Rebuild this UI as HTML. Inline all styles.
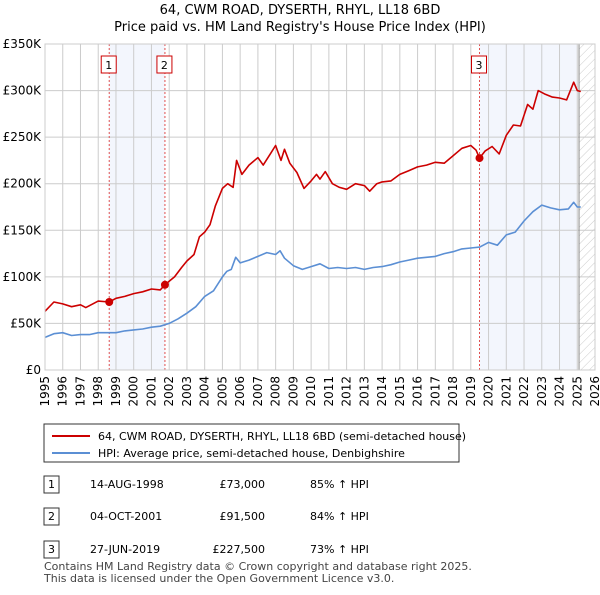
<!DOCTYPE html>
<html><head><meta charset="utf-8"><style>
body{margin:0;background:#fff;font-family:"Liberation Sans","DejaVu Sans",sans-serif;}
svg text{font-family:"DejaVu Sans","Liberation Sans",sans-serif;}
</style></head><body>
<svg width="600" height="590" viewBox="0 0 600 590" xmlns="http://www.w3.org/2000/svg">
<defs><pattern id="hatch" width="6" height="6" patternUnits="userSpaceOnUse" patternTransform="rotate(45)"><line x1="0" y1="0" x2="0" y2="6" stroke="#ccc" stroke-width="1"/></pattern></defs>
<text x="300" y="14" font-size="13" text-anchor="middle">64, CWM ROAD, DYSERTH, RHYL, LL18 6BD</text>
<text x="300" y="31" font-size="13" text-anchor="middle">Price paid vs. HM Land Registry's House Price Index (HPI)</text>
<g id="plot"></g>
<g>
<rect x="44" y="424" width="415" height="38" fill="#fff" stroke="#333" stroke-width="1"/>
<line x1="52" y1="436" x2="90" y2="436" stroke="#cc0000" stroke-width="2"/>
<text x="98" y="440" font-size="11">64, CWM ROAD, DYSERTH, RHYL, LL18 6BD (semi-detached house)</text>
<line x1="52" y1="453" x2="90" y2="453" stroke="#5b8fd4" stroke-width="2"/>
<text x="98" y="457" font-size="11">HPI: Average price, semi-detached house, Denbighshire</text>
</g>
<g font-size="11">
<rect x="44" y="476" width="15" height="17" fill="#fff" stroke="#333"/><text x="51.5" y="488" text-anchor="middle">1</text>
<text x="90" y="488">14-AUG-1998</text><text x="265" y="488" text-anchor="end">£73,000</text><text x="310" y="488">85% ↑ HPI</text>
<rect x="44" y="508" width="15" height="17" fill="#fff" stroke="#333"/><text x="51.5" y="520" text-anchor="middle">2</text>
<text x="90" y="520">04-OCT-2001</text><text x="265" y="520" text-anchor="end">£91,500</text><text x="310" y="520">84% ↑ HPI</text>
<rect x="44" y="541" width="15" height="17" fill="#fff" stroke="#333"/><text x="51.5" y="553" text-anchor="middle">3</text>
<text x="90" y="553">27-JUN-2019</text><text x="265" y="553" text-anchor="end">£227,500</text><text x="310" y="553">73% ↑ HPI</text>
</g>
<text x="44" y="570" font-size="11" fill="#444">Contains HM Land Registry data © Crown copyright and database right 2025.</text>
<text x="44" y="582" font-size="11" fill="#444">This data is licensed under the Open Government Licence v3.0.</text>
</svg>
<script>
const yTicks=[0,50,100,150,200,250,300,350];
const yTickLabels=["£0","£50K","£100K","£150K","£200K","£250K","£300K","£350K"];
const xYears=[1995,1996,1997,1998,1999,2000,2001,2002,2003,2004,2005,2006,2007,2008,2009,2010,2011,2012,2013,2014,2015,2016,2017,2018,2019,2020,2021,2022,2023,2024,2025,2026];
const saleLabels=["1","2","3"];
const saleDates=[1998.62,2001.76,2019.49];
const saleValues=[73,91.5,227.5];
const hpiDates=[1995,1995.5,1996,1996.5,1997,1997.5,1998,1998.5,1999,1999.5,2000,2000.5,2001,2001.5,2002,2002.5,2003,2003.5,2004,2004.5,2005,2005.25,2005.5,2005.75,2006,2006.5,2007,2007.5,2008,2008.25,2008.5,2009,2009.5,2010,2010.5,2011,2011.5,2012,2012.5,2013,2013.5,2014,2014.5,2015,2015.5,2016,2016.5,2017,2017.5,2018,2018.5,2019,2019.5,2020,2020.5,2021,2021.5,2022,2022.5,2023,2023.5,2024,2024.5,2024.8,2025,2025.2];
const hpiValues=[35,39,40,37,38,38,40,40,40,42,43,44,46,47,50,55,61,68,79,85,100,106,108,121,115,118,122,126,124,128,120,112,108,111,114,109,110,109,110,108,110,111,113,116,118,120,121,122,125,127,130,131,132,137,134,145,148,160,170,177,174,172,173,180,175,175];
const priceDates=[1995,1995.5,1996,1996.5,1997,1997.3,1998,1998.62,1999,1999.5,2000,2000.5,2001,2001.5,2001.76,2002.3,2002.7,2003,2003.4,2003.7,2004,2004.3,2004.6,2005,2005.3,2005.6,2005.8,2006.1,2006.5,2007,2007.3,2007.7,2008,2008.3,2008.5,2008.8,2009.2,2009.6,2010,2010.3,2010.5,2010.8,2011.2,2011.6,2012,2012.5,2013,2013.3,2013.7,2014,2014.5,2015,2015.5,2016,2016.5,2017,2017.5,2018,2018.5,2019,2019.3,2019.49,2019.8,2020.2,2020.6,2021,2021.4,2021.8,2022.2,2022.5,2022.8,2023.2,2023.6,2024,2024.4,2024.8,2025,2025.2];
const priceValues=[63,73,71,68,70,67,74,73,77,79,82,84,87,86,91.5,100,110,117,124,143,148,156,176,195,200,196,225,210,220,228,220,232,241,225,237,222,212,195,203,210,205,213,200,196,194,200,198,192,200,202,203,210,214,218,220,223,222,230,238,241,236,227.5,235,240,232,252,263,262,285,280,300,296,293,292,290,309,300,299];

const NS="http://www.w3.org/2000/svg";
const L=45,R=595,T=44,B=370;
const x=d=>L+(d-1995)*(R-L)/31;
const y=v=>B-v*(B-T)/350;
const g=document.getElementById('plot');
function el(t,a){const e=document.createElementNS(NS,t);for(const k in a)e.setAttribute(k,a[k]);g.appendChild(e);return e;}
let e;
e=el('rect',{x:L,y:T,width:R-L,height:B-T,fill:'#fff'});


e=el('rect',{x:x(saleDates[0]),y:T,width:x(saleDates[1])-x(saleDates[0]),height:B-T,fill:'#f3f6fd'});


e=el('rect',{x:x(saleDates[2]),y:T,width:x(2025.0)-x(saleDates[2]),height:B-T,fill:'#f3f6fd'});


e=el('rect',{x:x(2025.1),y:T,width:R-x(2025.1),height:B-T,fill:'url(#hatch)'});


xYears.forEach(yr=>{
 e=el('line',{x1:x(yr),x2:x(yr),y1:T,y2:B,stroke:'#ccc','stroke-width':1});
 
 
 e=el('text',{x:0,y:0,'font-size':12,'text-anchor':'end',transform:`translate(${x(yr)+4},${B+6}) rotate(-90)`});
 e.textContent=yr;
 
 
});
yTicks.forEach((v,i)=>{
 e=el('line',{x1:L,x2:R,y1:y(v),y2:y(v),stroke:'#ccc','stroke-width':1});
 
 
 e=el('text',{x:L-4,y:y(v)+4,'font-size':12,'text-anchor':'end'});
 e.textContent=yTickLabels[i];
 
 
});
e=el('line',{x1:x(2025.1),x2:x(2025.1),y1:T,y2:B,stroke:'#888','stroke-width':1});


saleDates.forEach((d,i)=>{
 e=el('line',{x1:x(d),x2:x(d),y1:T,y2:B,stroke:'#e05050','stroke-width':1,'stroke-dasharray':'2,2'});
 
 
});
function line(ds,vs,col,name){
 e=el('polyline',{points:ds.map((d,i)=>x(d).toFixed(1)+','+y(vs[i]).toFixed(1)).join(' '),fill:'none',stroke:col,'stroke-width':1.6,'stroke-linejoin':'round'});
 
 
}
line(hpiDates,hpiValues,'#5b8fd4','hpi-line');
line(priceDates,priceValues,'#cc0000','price-line');
saleDates.forEach((d,i)=>{
 e=el('circle',{cx:x(d),cy:y(saleValues[i]),r:4,fill:'#cc0000'});
 
 
 e=el('rect',{x:x(d)-8,y:56,width:15,height:17,fill:'#fff',stroke:'#cc0000'});
 
 
 e=el('text',{x:x(d)-0.5,y:69,'font-size':11,'text-anchor':'middle'});
 e.textContent=saleLabels[i];
 
 
});
e=el('rect',{x:L,y:T,width:R-L,height:B-T,fill:'none',stroke:'#ccc'});


</script>
</body></html>
